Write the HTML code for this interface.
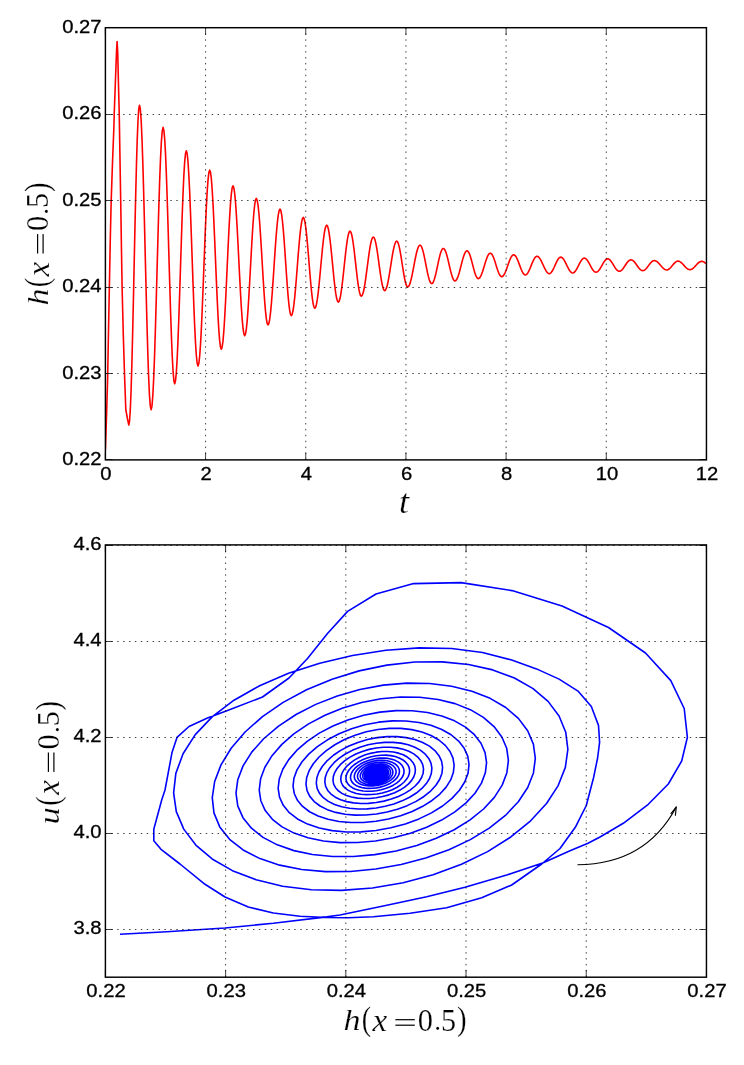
<!DOCTYPE html>
<html lang="en"><head><meta charset="utf-8"><title>h(x=0.5) time series and phase portrait</title>
<style>
html,body{margin:0;padding:0;background:#fff;}
body{width:744px;height:1065px;overflow:hidden;font-family:"Liberation Sans",sans-serif;}
svg{display:block;will-change:transform;}
.g{stroke:#000;stroke-width:0.74;stroke-dasharray:1.480 4.423;fill:none;}
.k{stroke:#000;stroke-width:0.74;fill:none;}
.s{stroke:#000;stroke-width:1.45;fill:none;}
.red{stroke:#f00;stroke-width:1.6;fill:none;stroke-linejoin:round;stroke-linecap:butt;}
.blue{stroke:#00f;stroke-width:1.6;fill:none;stroke-linejoin:round;stroke-linecap:butt;}
.arr{stroke:#000;stroke-width:1.15;fill:none;stroke-linecap:round;stroke-linejoin:round;}
.tl{font-family:"Liberation Sans",sans-serif;font-size:18.0px;fill:#000;stroke:#000;stroke-width:0.3;}
.mi{font-family:"Liberation Serif",serif;font-style:italic;fill:#000;stroke:#fff;stroke-width:0.2;}
.mr{font-family:"Liberation Serif",serif;fill:#000;stroke:#fff;stroke-width:0.2;}
</style></head>
<body>
<svg width="744" height="1065" viewBox="0 0 744 1065">
<rect x="0" y="0" width="744" height="1065" fill="#fff"/>
<defs><clipPath id="c1"><rect x="105.40" y="27.70" width="601.05" height="432.20"/></clipPath><clipPath id="c2"><rect x="105.40" y="544.90" width="601.05" height="432.30"/></clipPath></defs>
<g id="plot-top">
<path d="M105.40 449.60 L106.40 420.00 L107.60 380.00 L108.90 310.00 L110.30 239.00 L111.20 200.50 L112.60 160.00 L113.80 129.50 L114.30 112.00 L115.60 76.00 L116.50 52.00 L117.10 41.60 L117.70 52.00 L118.50 85.00 L119.25 114.50 L119.50 129.50 L120.70 200.50 L121.30 239.00 L122.10 287.20 L123.30 335.00 L124.50 373.40 L125.80 409.50 L127.40 418.50 L128.80 425.00 L129.56 420.99 L130.33 409.16 L131.09 390.11 L131.86 364.80 L132.62 334.48 L133.39 300.68 L134.15 265.10 L134.91 229.52 L135.68 195.72 L136.44 165.40 L137.21 140.09 L137.97 121.04 L138.74 109.21 L139.50 105.20 L140.33 109.02 L141.16 120.28 L141.99 138.42 L142.81 162.52 L143.64 191.39 L144.47 223.57 L145.30 257.45 L146.13 291.33 L146.96 323.51 L147.79 352.38 L148.61 376.48 L149.44 394.62 L150.27 405.88 L151.10 409.70 L151.96 406.16 L152.81 395.72 L153.67 378.91 L154.53 356.56 L155.39 329.79 L156.24 299.96 L157.10 268.55 L157.96 237.14 L158.81 207.31 L159.67 180.54 L160.53 158.19 L161.39 141.38 L162.24 130.94 L163.10 127.40 L163.93 130.61 L164.76 140.09 L165.59 155.36 L166.41 175.65 L167.24 199.95 L168.07 227.03 L168.90 255.55 L169.73 284.07 L170.56 311.15 L171.39 335.45 L172.21 355.74 L173.04 371.01 L173.87 380.49 L174.70 383.70 L175.53 380.78 L176.36 372.17 L177.19 358.29 L178.01 339.86 L178.84 317.78 L179.67 293.16 L180.50 267.25 L181.33 241.34 L182.16 216.72 L182.99 194.64 L183.81 176.21 L184.64 162.33 L185.47 153.72 L186.30 150.80 L187.14 153.50 L187.97 161.45 L188.81 174.27 L189.64 191.30 L190.48 211.70 L191.31 234.44 L192.15 258.38 L192.99 282.31 L193.82 305.05 L194.66 325.45 L195.49 342.48 L196.33 355.30 L197.16 363.25 L198.00 365.95 L198.84 363.50 L199.67 356.25 L200.51 344.59 L201.34 329.09 L202.18 310.53 L203.01 289.83 L203.85 268.05 L204.69 246.27 L205.52 225.57 L206.36 207.01 L207.19 191.51 L208.03 179.85 L208.86 172.60 L209.70 170.15 L210.53 172.40 L211.36 179.02 L212.19 189.69 L213.01 203.87 L213.84 220.85 L214.67 239.77 L215.50 259.70 L216.33 279.63 L217.16 298.55 L217.99 315.53 L218.81 329.71 L219.64 340.38 L220.47 347.00 L221.30 349.25 L222.14 347.20 L222.97 341.16 L223.81 331.43 L224.64 318.49 L225.48 303.00 L226.31 285.73 L227.15 267.55 L227.99 249.37 L228.82 232.10 L229.66 216.61 L230.49 203.67 L231.33 193.94 L232.16 187.90 L233.00 185.85 L233.84 187.73 L234.67 193.27 L235.51 202.19 L236.34 214.05 L237.18 228.25 L238.01 244.08 L238.85 260.75 L239.69 277.42 L240.52 293.25 L241.36 307.45 L242.19 319.31 L243.03 328.23 L243.86 333.77 L244.70 335.65 L245.53 333.93 L246.36 328.86 L247.19 320.68 L248.01 309.82 L248.84 296.81 L249.67 282.31 L250.50 267.05 L251.33 251.79 L252.16 237.29 L252.99 224.28 L253.81 213.42 L254.64 205.24 L255.47 200.17 L256.30 198.45 L257.14 200.04 L257.97 204.71 L258.81 212.25 L259.64 222.26 L260.48 234.26 L261.31 247.63 L262.15 261.70 L262.99 275.77 L263.82 289.14 L264.66 301.14 L265.49 311.15 L266.33 318.69 L267.16 323.36 L268.00 324.95 L268.86 323.50 L269.71 319.22 L270.57 312.32 L271.43 303.15 L272.29 292.17 L273.14 279.93 L274.00 267.05 L274.86 254.17 L275.71 241.93 L276.57 230.95 L277.43 221.78 L278.29 214.88 L279.14 210.60 L280.00 209.15 L280.81 210.49 L281.61 214.42 L282.42 220.77 L283.23 229.20 L284.04 239.30 L284.84 250.55 L285.65 262.40 L286.46 274.25 L287.26 285.50 L288.07 295.60 L288.88 304.03 L289.69 310.38 L290.49 314.31 L291.30 315.65 L292.16 314.42 L293.01 310.79 L293.87 304.94 L294.73 297.16 L295.59 287.85 L296.44 277.48 L297.30 266.55 L298.16 255.62 L299.01 245.25 L299.87 235.94 L300.73 228.16 L301.59 222.31 L302.44 218.68 L303.30 217.45 L304.12 218.59 L304.94 221.95 L305.76 227.35 L306.59 234.54 L307.41 243.15 L308.23 252.75 L309.05 262.85 L309.87 272.95 L310.69 282.55 L311.51 291.16 L312.34 298.35 L313.16 303.75 L313.98 307.11 L314.80 308.25 L315.65 307.21 L316.50 304.14 L317.35 299.19 L318.20 292.61 L319.05 284.73 L319.90 275.95 L320.75 266.70 L321.60 257.45 L322.45 248.67 L323.30 240.79 L324.15 234.21 L325.00 229.26 L325.85 226.19 L326.70 225.15 L327.53 226.11 L328.36 228.96 L329.19 233.54 L330.01 239.64 L330.84 246.93 L331.67 255.06 L332.50 263.62 L333.33 272.19 L334.16 280.32 L334.99 287.61 L335.81 293.71 L336.64 298.29 L337.47 301.14 L338.30 302.10 L339.14 301.21 L339.97 298.59 L340.81 294.36 L341.64 288.74 L342.48 282.02 L343.31 274.52 L344.15 266.62 L344.99 258.73 L345.82 251.23 L346.66 244.51 L347.49 238.89 L348.33 234.66 L349.16 232.04 L350.00 231.15 L350.81 231.97 L351.61 234.37 L352.42 238.25 L353.23 243.41 L354.04 249.58 L354.84 256.46 L355.65 263.70 L356.46 270.94 L357.26 277.82 L358.07 283.99 L358.88 289.15 L359.69 293.03 L360.49 295.43 L361.30 296.25 L362.16 295.51 L363.01 293.32 L363.87 289.79 L364.73 285.10 L365.59 279.48 L366.44 273.22 L367.30 266.62 L368.16 260.03 L369.01 253.77 L369.87 248.15 L370.73 243.46 L371.59 239.93 L372.44 237.74 L373.30 237.00 L374.11 237.67 L374.93 239.66 L375.74 242.85 L376.56 247.10 L377.37 252.19 L378.19 257.86 L379.00 263.82 L379.81 269.79 L380.63 275.46 L381.44 280.55 L382.26 284.80 L383.07 287.99 L383.89 289.98 L384.70 290.65 L385.56 290.03 L386.41 288.20 L387.27 285.25 L388.13 281.33 L388.99 276.64 L389.84 271.41 L390.70 265.90 L391.56 260.39 L392.41 255.16 L393.27 250.47 L394.13 246.55 L394.99 243.60 L395.84 241.77 L396.70 241.15 L397.49 241.72 L398.27 243.42 L399.06 246.15 L399.84 249.77 L400.63 254.11 L401.41 258.95 L402.20 264.05 L402.99 269.15 L403.77 273.99 L404.56 278.33 L405.34 281.95 L406.13 284.68 L406.91 286.38 L407.70 286.95 L408.58 286.43 L409.46 284.88 L410.34 282.39 L411.21 279.08 L412.09 275.12 L412.97 270.70 L413.85 266.05 L414.73 261.40 L415.61 256.98 L416.49 253.02 L417.36 249.71 L418.24 247.22 L419.12 245.67 L420.00 245.15 L420.84 245.63 L421.67 247.06 L422.51 249.35 L423.34 252.40 L424.18 256.05 L425.01 260.12 L425.85 264.40 L426.69 268.68 L427.52 272.75 L428.36 276.40 L429.19 279.45 L430.03 281.74 L430.86 283.17 L431.70 283.65 L432.53 283.21 L433.36 281.91 L434.19 279.81 L435.01 277.02 L435.84 273.69 L436.67 269.97 L437.50 266.05 L438.33 262.13 L439.16 258.41 L439.99 255.08 L440.81 252.29 L441.64 250.19 L442.47 248.89 L443.30 248.45 L444.14 248.86 L444.97 250.06 L445.81 252.00 L446.64 254.57 L447.48 257.65 L448.31 261.08 L449.15 264.70 L449.99 268.32 L450.82 271.75 L451.66 274.83 L452.49 277.40 L453.33 279.34 L454.16 280.54 L455.00 280.95 L455.86 280.57 L456.71 279.46 L457.57 277.67 L458.43 275.28 L459.29 272.43 L460.14 269.25 L461.00 265.90 L461.86 262.55 L462.71 259.37 L463.57 256.52 L464.43 254.13 L465.29 252.34 L466.14 251.23 L467.00 250.85 L467.81 251.20 L468.61 252.23 L469.42 253.88 L470.23 256.08 L471.04 258.72 L471.84 261.66 L472.65 264.75 L473.46 267.84 L474.26 270.78 L475.07 273.42 L475.88 275.62 L476.69 277.27 L477.49 278.30 L478.30 278.65 L479.16 278.33 L480.01 277.39 L480.87 275.87 L481.73 273.85 L482.59 271.43 L483.44 268.74 L484.30 265.90 L485.16 263.06 L486.01 260.37 L486.87 257.95 L487.73 255.93 L488.59 254.41 L489.44 253.47 L490.30 253.15 L491.11 253.44 L491.93 254.31 L492.74 255.71 L493.56 257.57 L494.37 259.80 L495.19 262.29 L496.00 264.90 L496.81 267.51 L497.63 270.00 L498.44 272.23 L499.26 274.09 L500.07 275.49 L500.89 276.36 L501.70 276.65 L502.56 276.38 L503.41 275.57 L504.27 274.27 L505.13 272.54 L505.99 270.47 L506.84 268.16 L507.70 265.73 L508.56 263.29 L509.41 260.98 L510.27 258.91 L511.13 257.18 L511.99 255.88 L512.84 255.07 L513.70 254.80 L514.53 255.05 L515.36 255.80 L516.19 257.00 L517.01 258.59 L517.84 260.50 L518.67 262.63 L519.50 264.88 L520.33 267.12 L521.16 269.25 L521.99 271.16 L522.81 272.75 L523.64 273.95 L524.47 274.70 L525.30 274.95 L526.14 274.72 L526.97 274.03 L527.81 272.92 L528.64 271.44 L529.48 269.67 L530.31 267.70 L531.15 265.62 L531.99 263.55 L532.82 261.58 L533.66 259.81 L534.49 258.33 L535.33 257.22 L536.16 256.53 L537.00 256.30 L537.88 256.52 L538.76 257.16 L539.64 258.19 L540.51 259.57 L541.39 261.21 L542.27 263.04 L543.15 264.97 L544.03 266.91 L544.91 268.74 L545.79 270.38 L546.66 271.76 L547.54 272.79 L548.42 273.43 L549.30 273.65 L550.11 273.44 L550.93 272.83 L551.74 271.85 L552.56 270.54 L553.37 268.98 L554.19 267.24 L555.00 265.40 L555.81 263.56 L556.63 261.82 L557.44 260.26 L558.26 258.95 L559.07 257.97 L559.89 257.36 L560.70 257.15 L561.56 257.35 L562.41 257.93 L563.27 258.87 L564.13 260.12 L564.99 261.62 L565.84 263.29 L566.70 265.05 L567.56 266.81 L568.41 268.48 L569.27 269.98 L570.13 271.23 L570.99 272.17 L571.84 272.75 L572.70 272.95 L573.53 272.76 L574.36 272.22 L575.19 271.34 L576.01 270.16 L576.84 268.76 L577.67 267.20 L578.50 265.55 L579.33 263.90 L580.16 262.34 L580.99 260.94 L581.81 259.76 L582.64 258.88 L583.47 258.34 L584.30 258.15 L585.14 258.33 L585.97 258.85 L586.81 259.69 L587.64 260.80 L588.48 262.14 L589.31 263.63 L590.15 265.20 L590.99 266.77 L591.82 268.26 L592.66 269.60 L593.49 270.71 L594.33 271.55 L595.16 272.07 L596.00 272.25 L596.84 272.08 L597.67 271.59 L598.51 270.79 L599.34 269.73 L600.18 268.46 L601.01 267.04 L601.85 265.55 L602.69 264.06 L603.52 262.64 L604.36 261.37 L605.19 260.31 L606.03 259.51 L606.86 259.02 L607.70 258.85 L608.53 259.01 L609.36 259.46 L610.19 260.20 L611.01 261.18 L611.84 262.36 L612.67 263.67 L613.50 265.05 L614.33 266.43 L615.16 267.74 L615.99 268.92 L616.81 269.90 L617.64 270.64 L618.47 271.09 L619.30 271.25 L620.14 271.11 L620.97 270.69 L621.81 270.01 L622.64 269.10 L623.48 268.02 L624.31 266.82 L625.15 265.55 L625.99 264.28 L626.82 263.08 L627.66 262.00 L628.49 261.09 L629.33 260.41 L630.16 259.99 L631.00 259.85 L631.84 259.99 L632.67 260.38 L633.51 261.03 L634.34 261.88 L635.18 262.91 L636.01 264.05 L636.85 265.25 L637.69 266.45 L638.52 267.59 L639.36 268.62 L640.19 269.47 L641.03 270.12 L641.86 270.51 L642.70 270.65 L643.53 270.52 L644.36 270.15 L645.19 269.55 L646.01 268.76 L646.84 267.81 L647.67 266.74 L648.50 265.62 L649.33 264.51 L650.16 263.44 L650.99 262.49 L651.81 261.70 L652.64 261.10 L653.47 260.73 L654.30 260.60 L655.19 260.72 L656.07 261.06 L656.96 261.62 L657.84 262.36 L658.73 263.25 L659.61 264.23 L660.50 265.27 L661.39 266.32 L662.27 267.30 L663.16 268.19 L664.04 268.93 L664.93 269.49 L665.81 269.83 L666.70 269.95 L667.51 269.84 L668.31 269.51 L669.12 268.99 L669.93 268.29 L670.74 267.46 L671.54 266.53 L672.35 265.55 L673.16 264.57 L673.96 263.64 L674.77 262.81 L675.58 262.11 L676.39 261.59 L677.19 261.26 L678.00 261.15 L678.86 261.26 L679.71 261.57 L680.57 262.08 L681.43 262.75 L682.29 263.56 L683.14 264.45 L684.00 265.40 L684.86 266.35 L685.71 267.24 L686.57 268.05 L687.43 268.72 L688.29 269.23 L689.14 269.54 L690.00 269.65 L690.84 269.55 L691.67 269.24 L692.51 268.74 L693.34 268.08 L694.18 267.29 L695.01 266.40 L695.85 265.47 L696.69 264.55 L697.52 263.66 L698.36 262.87 L699.19 262.21 L700.03 261.71 L700.86 261.40 L701.70 261.30 L702.54 261.40 L703.37 261.70 L704.21 262.18 L705.04 262.82 L705.88 263.59" class="red" clip-path="url(#c1)"/>
<line x1="205.58" y1="459.90" x2="205.58" y2="27.70" class="g"/>
<line x1="305.75" y1="459.90" x2="305.75" y2="27.70" class="g"/>
<line x1="405.93" y1="459.90" x2="405.93" y2="27.70" class="g"/>
<line x1="506.10" y1="459.90" x2="506.10" y2="27.70" class="g"/>
<line x1="606.28" y1="459.90" x2="606.28" y2="27.70" class="g"/>
<line x1="105.40" y1="114.50" x2="706.45" y2="114.50" class="g"/>
<line x1="105.40" y1="200.50" x2="706.45" y2="200.50" class="g"/>
<line x1="105.40" y1="287.50" x2="706.45" y2="287.50" class="g"/>
<line x1="105.40" y1="373.50" x2="706.45" y2="373.50" class="g"/>
<line x1="105.40" y1="459.90" x2="105.40" y2="452.70" class="k"/>
<line x1="105.40" y1="27.70" x2="105.40" y2="34.90" class="k"/>
<line x1="205.58" y1="459.90" x2="205.58" y2="452.70" class="k"/>
<line x1="205.58" y1="27.70" x2="205.58" y2="34.90" class="k"/>
<line x1="305.75" y1="459.90" x2="305.75" y2="452.70" class="k"/>
<line x1="305.75" y1="27.70" x2="305.75" y2="34.90" class="k"/>
<line x1="405.93" y1="459.90" x2="405.93" y2="452.70" class="k"/>
<line x1="405.93" y1="27.70" x2="405.93" y2="34.90" class="k"/>
<line x1="506.10" y1="459.90" x2="506.10" y2="452.70" class="k"/>
<line x1="506.10" y1="27.70" x2="506.10" y2="34.90" class="k"/>
<line x1="606.28" y1="459.90" x2="606.28" y2="452.70" class="k"/>
<line x1="606.28" y1="27.70" x2="606.28" y2="34.90" class="k"/>
<line x1="706.45" y1="459.90" x2="706.45" y2="452.70" class="k"/>
<line x1="706.45" y1="27.70" x2="706.45" y2="34.90" class="k"/>
<line x1="105.40" y1="27.50" x2="112.60" y2="27.50" class="k"/>
<line x1="706.45" y1="27.50" x2="699.25" y2="27.50" class="k"/>
<line x1="105.40" y1="114.50" x2="112.60" y2="114.50" class="k"/>
<line x1="706.45" y1="114.50" x2="699.25" y2="114.50" class="k"/>
<line x1="105.40" y1="200.50" x2="112.60" y2="200.50" class="k"/>
<line x1="706.45" y1="200.50" x2="699.25" y2="200.50" class="k"/>
<line x1="105.40" y1="287.50" x2="112.60" y2="287.50" class="k"/>
<line x1="706.45" y1="287.50" x2="699.25" y2="287.50" class="k"/>
<line x1="105.40" y1="373.50" x2="112.60" y2="373.50" class="k"/>
<line x1="706.45" y1="373.50" x2="699.25" y2="373.50" class="k"/>
<line x1="105.40" y1="459.50" x2="112.60" y2="459.50" class="k"/>
<line x1="706.45" y1="459.50" x2="699.25" y2="459.50" class="k"/>
<rect x="105.40" y="27.70" width="601.05" height="432.20" class="s"/>
<text transform="translate(106.00 479.70) scale(1.1250 1)" text-anchor="middle" class="tl">0</text>
<text transform="translate(206.18 479.70) scale(1.1250 1)" text-anchor="middle" class="tl">2</text>
<text transform="translate(306.35 479.70) scale(1.1250 1)" text-anchor="middle" class="tl">4</text>
<text transform="translate(406.53 479.70) scale(1.1250 1)" text-anchor="middle" class="tl">6</text>
<text transform="translate(506.70 479.70) scale(1.1250 1)" text-anchor="middle" class="tl">8</text>
<text transform="translate(606.88 479.70) scale(1.1250 1)" text-anchor="middle" class="tl">10</text>
<text transform="translate(707.05 479.70) scale(1.1250 1)" text-anchor="middle" class="tl">12</text>
<text transform="translate(101.60 32.80) scale(1.1250 1)" text-anchor="end" class="tl">0.27</text>
<text transform="translate(101.60 119.24) scale(1.1250 1)" text-anchor="end" class="tl">0.26</text>
<text transform="translate(101.60 205.68) scale(1.1250 1)" text-anchor="end" class="tl">0.25</text>
<text transform="translate(101.60 292.12) scale(1.1250 1)" text-anchor="end" class="tl">0.24</text>
<text transform="translate(101.60 378.56) scale(1.1250 1)" text-anchor="end" class="tl">0.23</text>
<text transform="translate(101.60 465.00) scale(1.1250 1)" text-anchor="end" class="tl">0.22</text>
</g>
<g id="plot-bottom">
<path d="M120.00 934.30 L166.70 931.70 L225.00 928.00 L273.30 923.30 L326.70 916.90 L340.00 915.00 L383.30 906.00 L426.70 896.70 L465.00 887.30 L506.70 875.00 L543.30 862.70 L570.00 850.70 L588.00 843.30 L600.00 837.00 L623.30 823.30 L648.30 804.30 L668.30 784.00 L681.70 761.00 L687.40 737.30 L684.20 708.50 L670.80 680.60 L645.50 653.00 L608.50 627.50 L562.00 606.00 L512.00 590.60 L461.00 582.60 L413.60 583.60 L376.00 594.00 L347.60 611.40 L327.50 633.50 L307.50 658.50 L289.00 678.00 L262.50 697.00 L227.50 710.50 L207.50 718.00 L189.00 726.50 L177.00 737.40 L172.00 752.60 L165.00 790.00 L161.70 800.00 L153.80 829.30 L153.80 840.70 L161.00 849.30 L180.00 864.00 L205.00 884.30 L225.00 897.00 L248.30 907.00 L273.30 913.00 L300.00 916.30 L326.70 917.50 L348.00 917.70 L373.30 916.70 L410.00 913.30 L446.70 907.70 L481.70 897.70 L511.70 885.00 L541.70 864.00 L560.00 848.50 L575.30 827.30 L586.30 805.50 L593.60 777.50 L597.60 758.00 L599.60 742.30 L598.50 725.40 L591.33 706.43 L578.39 691.43 L559.10 679.11 L536.51 668.89 L510.98 659.81 L482.52 652.55 L451.70 648.49 L419.26 647.86 L385.94 650.28 L352.51 655.45 L319.76 663.18 L288.52 673.32 L259.65 685.72 L234.02 700.23 L212.37 716.66 L195.27 734.66 L183.06 753.75 L175.85 773.35 L173.62 792.82 L176.30 811.59 L183.76 829.13 L195.81 845.04 L212.16 858.98 L232.43 870.64 L256.13 879.77 L282.67 886.19 L311.38 889.73 L341.54 890.33 L372.40 887.99 L403.18 882.77 L433.12 874.81 L461.49 864.34 L487.61 851.62 L510.84 836.98 L530.64 820.81 L546.54 803.53 L558.19 785.57 L565.35 767.39 L567.86 749.47 L565.73 732.22 L559.06 716.05 L548.07 701.38 L533.06 688.59 L514.45 678.01 L492.74 669.90 L468.49 664.46 L442.32 661.83 L414.91 662.06 L386.94 665.11 L359.09 670.88 L332.07 679.18 L306.55 689.77 L283.16 702.35 L262.49 716.55 L245.05 731.99 L231.15 748.25 L220.99 764.90 L214.66 781.50 L212.27 797.64 L213.95 812.90 L219.76 826.88 L229.57 839.31 L243.11 849.95 L259.97 858.61 L279.67 865.15 L301.69 869.50 L325.45 871.59 L350.36 871.44 L375.78 869.07 L401.10 864.57 L425.69 858.06 L448.94 849.69 L470.31 839.64 L489.29 828.14 L505.42 815.43 L518.33 801.79 L527.74 787.52 L533.44 772.92 L535.33 758.35 L533.38 744.14 L527.68 730.71 L518.38 718.39 L505.76 707.51 L490.14 698.36 L471.94 691.20 L451.62 686.20 L429.70 683.49 L406.72 683.14 L383.27 685.16 L359.92 689.47 L337.24 695.94 L315.78 704.38 L296.07 714.52 L278.56 726.09 L263.67 738.75 L251.75 752.14 L243.05 765.90 L237.77 779.68 L236.00 793.10 L237.76 805.86 L242.96 817.64 L251.45 828.21 L262.99 837.35 L277.26 844.86 L293.90 850.62 L312.46 854.52 L332.47 856.50 L353.44 856.54 L374.82 854.66 L396.10 850.92 L416.76 845.42 L436.27 838.30 L454.19 829.72 L470.08 819.88 L483.57 809.00 L494.35 797.34 L502.18 785.15 L506.89 772.72 L508.40 760.34 L506.70 748.31 L501.86 736.94 L494.02 726.53 L483.41 717.34 L470.32 709.64 L455.08 703.62 L438.09 699.45 L419.78 697.24 L400.62 697.03 L381.08 698.82 L361.64 702.55 L342.79 708.09 L324.98 715.28 L308.64 723.90 L294.14 733.70 L281.85 744.39 L272.02 755.68 L264.89 767.27 L260.60 778.83 L259.23 790.08 L260.80 800.73 L265.23 810.56 L272.39 819.34 L282.08 826.91 L294.04 833.11 L307.96 837.84 L323.48 841.01 L340.19 842.59 L357.69 842.55 L375.52 840.93 L393.26 837.77 L410.47 833.16 L426.72 827.21 L441.63 820.07 L454.84 811.89 L466.05 802.87 L474.99 793.20 L481.47 783.11 L485.35 772.83 L486.56 762.60 L485.08 752.67 L480.99 743.29 L474.40 734.71 L465.50 727.16 L454.52 720.84 L441.75 715.91 L427.53 712.51 L412.22 710.73 L396.19 710.61 L379.85 712.15 L363.60 715.29 L347.84 719.93 L332.95 725.94 L319.30 733.14 L307.20 741.31 L296.93 750.22 L288.74 759.63 L282.81 769.28 L279.26 778.91 L278.16 788.28 L279.51 797.15 L283.27 805.33 L289.31 812.65 L297.48 818.94 L307.54 824.10 L319.24 828.03 L332.28 830.65 L346.33 831.94 L361.02 831.87 L376.00 830.48 L390.90 827.81 L405.34 823.91 L418.98 818.90 L431.49 812.88 L442.57 806.00 L451.96 798.41 L459.44 790.27 L464.84 781.79 L468.06 773.14 L469.02 764.54 L467.73 756.19 L464.22 748.31 L458.62 741.10 L451.06 734.75 L441.76 729.44 L430.96 725.31 L418.93 722.46 L405.97 720.97 L392.43 720.88 L378.63 722.17 L364.91 724.81 L351.61 728.72 L339.06 733.76 L327.55 739.80 L317.36 746.65 L308.72 754.13 L301.85 762.02 L296.88 770.11 L293.93 778.19 L293.05 786.04 L294.24 793.48 L297.46 800.34 L302.61 806.47 L309.55 811.74 L318.08 816.06 L328.00 819.33 L339.03 821.52 L350.90 822.57 L363.31 822.49 L375.96 821.29 L388.52 819.00 L400.69 815.69 L412.18 811.42 L422.70 806.31 L432.01 800.46 L439.90 794.01 L446.17 787.11 L450.69 779.90 L453.36 772.56 L454.13 765.26 L453.00 758.17 L450.02 751.48 L445.27 745.37 L438.88 740.00 L431.02 735.51 L421.91 732.02 L411.76 729.63 L400.85 728.41 L389.44 728.37 L377.82 729.53 L366.27 731.82 L355.09 735.20 L344.53 739.54 L334.86 744.73 L326.30 750.61 L319.05 757.01 L313.29 763.75 L309.14 770.65 L306.69 777.54 L305.99 784.22 L307.04 790.54 L309.80 796.36 L314.19 801.55 L320.09 806.01 L327.34 809.65 L335.76 812.40 L345.12 814.23 L355.20 815.10 L365.73 815.02 L376.45 813.98 L387.11 812.04 L397.43 809.24 L407.16 805.65 L416.08 801.35 L423.97 796.45 L430.64 791.05 L435.93 785.28 L439.74 779.27 L441.97 773.15 L442.58 767.08 L441.58 761.20 L438.99 755.65 L434.90 750.59 L429.42 746.15 L422.69 742.45 L414.90 739.59 L406.23 737.64 L396.91 736.66 L387.18 736.66 L377.27 737.65 L367.43 739.58 L357.91 742.41 L348.92 746.04 L340.70 750.37 L333.43 755.27 L327.29 760.60 L322.41 766.22 L318.91 771.97 L316.86 777.70 L316.29 783.27 L317.21 788.53 L319.58 793.37 L323.33 797.69 L328.36 801.40 L334.53 804.43 L341.69 806.71 L349.63 808.22 L358.18 808.93 L367.10 808.83 L376.18 807.94 L385.19 806.28 L393.91 803.90 L402.13 800.85 L409.65 797.21 L416.30 793.05 L421.90 788.47 L426.35 783.57 L429.53 778.47 L431.38 773.28 L431.87 768.13 L430.98 763.13 L428.76 758.43 L425.27 754.13 L420.60 750.37 L414.88 747.23 L408.26 744.80 L400.90 743.15 L392.99 742.33 L384.74 742.34 L376.34 743.19 L368.00 744.84 L359.93 747.25 L352.33 750.34 L345.37 754.01 L339.23 758.17 L334.04 762.70 L329.93 767.46 L326.99 772.33 L325.29 777.18 L324.85 781.88 L325.67 786.33 L327.74 790.41 L330.97 794.05 L335.30 797.17 L340.59 799.71 L346.72 801.62 L353.52 802.87 L360.83 803.45 L368.45 803.34 L376.21 802.56 L383.90 801.14 L391.34 799.10 L398.34 796.50 L404.75 793.40 L410.39 789.88 L415.15 786.00 L418.92 781.85 L421.60 777.54 L423.14 773.16 L423.52 768.81 L422.72 764.61 L420.80 760.65 L417.79 757.04 L413.78 753.88 L408.89 751.26 L403.23 749.24 L396.96 747.87 L390.24 747.20 L383.24 747.23 L376.12 747.97 L369.07 749.38 L362.26 751.42 L355.85 754.04 L350.01 757.14 L344.86 760.65 L340.53 764.46 L337.11 768.47 L334.69 772.56 L333.30 776.63 L332.99 780.57 L333.74 784.30 L335.52 787.71 L338.28 790.76 L341.95 793.36 L346.43 795.47 L351.59 797.06 L357.31 798.09 L363.43 798.56 L369.81 798.46 L376.28 797.79 L382.68 796.58 L388.86 794.87 L394.67 792.68 L399.97 790.07 L404.64 787.11 L408.56 783.86 L411.65 780.38 L413.84 776.77 L415.09 773.11 L415.38 769.47 L414.70 765.96 L413.09 762.65 L410.58 759.64 L407.27 757.01 L403.22 754.82 L398.55 753.14 L393.38 752.02 L387.84 751.47 L382.07 751.52 L376.21 752.16 L370.41 753.36 L364.80 755.09 L359.54 757.30 L354.73 759.92 L350.50 762.88 L346.94 766.09 L344.14 769.46 L342.15 772.90 L341.03 776.32 L340.78 779.63 L341.41 782.75 L342.90 785.62 L345.20 788.17 L348.26 790.35 L351.98 792.11 L356.28 793.43 L361.05 794.29 L366.15 794.67 L371.47 794.57 L376.88 794.00 L382.24 792.97 L387.41 791.52 L392.28 789.68 L396.72 787.48 L400.63 784.99 L403.92 782.25 L406.51 779.33 L408.34 776.30 L409.38 773.22 L409.60 770.18 L409.01 767.23 L407.62 764.46 L405.48 761.95 L402.64 759.75 L399.19 757.93 L395.20 756.53 L390.79 755.60 L386.06 755.16 L381.13 755.21 L376.13 755.75 L371.18 756.77 L366.40 758.23 L361.90 760.09 L357.80 762.29 L354.19 764.77 L351.16 767.45 L348.77 770.27 L347.08 773.15 L346.13 776.01 L345.93 778.78 L346.48 781.38 L347.75 783.77 L349.72 785.90 L352.32 787.71 L355.49 789.18 L359.15 790.27 L363.19 790.97 L367.52 791.28 L372.02 791.18 L376.59 790.69 L381.12 789.82 L385.48 788.59 L389.58 787.03 L393.31 785.18 L396.59 783.08 L399.35 780.78 L401.51 778.33 L403.03 775.78 L403.87 773.19 L404.03 770.63 L403.51 768.16 L402.32 765.84 L400.49 763.73 L398.08 761.88 L395.16 760.36 L391.79 759.19 L388.07 758.41 L384.09 758.04 L379.94 758.09 L375.74 758.55 L371.58 759.41 L367.57 760.64 L363.81 762.21 L360.38 764.06 L357.36 766.14 L354.83 768.40 L352.85 770.77 L351.45 773.19 L350.67 775.59 L350.52 777.91 L351.00 780.10 L352.09 782.11 L353.75 783.89 L355.95 785.41 L358.63 786.64 L361.71 787.55 L365.12 788.14 L368.76 788.38 L372.55 788.29 L376.40 787.87 L380.20 787.12 L383.87 786.08 L387.31 784.75 L390.45 783.18 L393.21 781.40 L395.52 779.44 L397.33 777.36 L398.61 775.20 L399.31 773.01 L399.44 770.84 L399.00 768.75 L397.99 766.78 L396.44 765.00 L394.41 763.44 L391.94 762.15 L389.10 761.17 L385.96 760.52 L382.60 760.21 L379.10 760.26 L375.55 760.66 L372.04 761.40 L368.65 762.45 L365.47 763.78 L362.57 765.35 L360.03 767.12 L357.89 769.04 L356.22 771.05 L355.04 773.10 L354.39 775.14 L354.28 777.11 L354.70 778.96 L355.63 780.66 L357.07 782.17 L358.95 783.46 L361.24 784.50 L363.88 785.28 L366.79 785.77 L369.91 785.99 L373.16 785.91 L376.44 785.56 L379.70 784.93 L382.83 784.05 L385.78 782.93 L388.46 781.60 L390.81 780.09 L392.79 778.44 L394.33 776.68 L395.41 774.85 L396.01 772.99 L396.10 771.15 L395.71 769.37 L394.83 767.70 L393.50 766.19 L391.74 764.87 L389.62 763.78 L387.18 762.94 L384.48 762.39 L381.59 762.14 L378.59 762.19 L375.56 762.55 L372.56 763.19 L369.66 764.10 L366.95 765.26 L364.48 766.63 L362.32 768.17 L360.51 769.83 L359.09 771.58 L358.10 773.36 L357.56 775.13 L357.48 776.84 L357.85 778.45 L358.66 779.93 L359.89 781.24 L361.50 782.36 L363.45 783.27 L365.70 783.94 L368.18 784.37 L370.82 784.55 L373.57 784.48 L376.36 784.17 L379.11 783.62 L381.76 782.84 L384.24 781.87 L386.50 780.71 L388.48 779.40 L390.14 777.96 L391.44 776.42 L392.34 774.83 L392.83 773.22 L392.91 771.63 L392.56 770.09 L391.81 768.65 L390.68 767.34 L389.19 766.21 L387.39 765.27 L385.32 764.55 L383.04 764.09 L380.60 763.88 L378.07 763.93 L375.50 764.24 L372.96 764.80 L370.52 765.59 L368.23 766.58 L366.14 767.76 L364.32 769.08 L362.79 770.51 L361.60 772.01 L360.77 773.53 L360.32 775.04 L360.26 776.50 L360.58 777.87 L361.29 779.13 L362.34 780.24 L363.73 781.19 L365.40 781.96 L367.33 782.52 L369.45 782.88 L371.72 783.03 L374.07 782.96 L376.46 782.68 L378.82 782.20 L381.09 781.53 L383.21 780.69 L385.15 779.69 L386.85 778.56 L388.26 777.32 L389.37 776.00 L390.14 774.64 L390.55 773.25 L390.61 771.89 L390.31 770.57 L389.66 769.33 L388.68 768.21 L387.40 767.24 L385.85 766.44 L384.07 765.83 L382.10 765.43 L380.01 765.26 L377.83 765.31 L375.63 765.58 L373.46 766.06 L371.37 766.74 L369.41 767.60 L367.63 768.61 L366.07 769.75 L364.77 770.98 L363.75 772.27 L363.05 773.57 L362.67 774.87 L362.62 776.12 L362.91 777.30 L363.51 778.38 L364.42 779.34 L365.61 780.15 L367.04 780.80 L368.68 781.29 L370.50 781.60 L372.43 781.72 L374.44 781.66 L376.48 781.42 L378.48 781.01 L380.42 780.43 L382.23 779.71 L383.88 778.85 L385.32 777.88 L386.53 776.81 L387.47 775.68 L388.12 774.50 L388.48 773.31 L388.53 772.13 L388.27 770.99 L387.72 769.93 L386.88 768.96 L385.79 768.12 L384.46 767.43 L382.94 766.90 L381.26 766.55 L379.46 766.40 L377.59 766.44 L375.70 766.67 L373.83 767.09 L372.03 767.69 L370.33 768.44 L368.79 769.32 L367.44 770.31 L366.31 771.39 L365.43 772.51 L364.81 773.66 L364.47 774.80 L364.43 775.90 L364.67 776.94 L365.19 777.89 L365.98 778.73 L367.02 779.45 L368.28 780.03 L369.72 780.46 L371.32 780.74 L373.02 780.85 L374.80 780.79 L376.60 780.58 L378.39 780.21 L380.11 779.70 L381.72 779.05 L383.19 778.28 L384.48 777.41 L385.56 776.45 L386.40 775.44 L386.99 774.38 L387.30 773.31 L387.34 772.25 L387.11 771.22 L386.60 770.26 L385.84 769.39 L384.84 768.63 L383.63 768.00 L382.25 767.53 L380.72 767.22 L379.08 767.08 L377.38 767.12 L375.65 767.33 L373.95 767.71 L372.31 768.25 L370.76 768.93 L369.36 769.74 L368.13 770.64 L367.10 771.61 L366.30 772.63 L365.74 773.68 L365.44 774.71 L365.40 775.71 L365.62 776.65 L366.10 777.51 L366.82 778.28 L367.75 778.93 L368.89 779.45 L370.19 779.84 L371.63 780.08 L373.17 780.18 L374.76 780.13 L376.38 779.93 L377.98 779.60 L379.52 779.13 L380.96 778.54 L382.28 777.84 L383.43 777.05 L384.39 776.18 L385.13 775.26 L385.65 774.30 L385.92 773.34 L385.95 772.38 L385.73 771.45 L385.27 770.58 L384.59 769.80 L383.69 769.12 L382.61 768.55 L381.37 768.13 L380.00 767.86 L378.53 767.74 L377.01 767.78 L375.47 767.98 L373.95 768.33 L372.49 768.82 L371.11 769.44 L369.86 770.17 L368.77 770.99 L367.86 771.87 L367.15 772.80 L366.66 773.74 L366.40 774.67 L366.38 775.57 L366.59 776.42 L367.03 777.19 L367.69 777.88 L368.55 778.46 L369.59 778.93 L370.78 779.27 L372.09 779.48 L373.48 779.57 L374.93 779.51 L376.40 779.33 L377.84 779.02 L379.23 778.60 L380.53 778.06 L381.71 777.43 L382.74 776.71 L383.60 775.93 L384.27 775.10 L384.72 774.25 L384.96 773.38 L384.98 772.52 L384.77 771.70 L384.35 770.93 L383.73 770.23 L382.93 769.63 L381.96 769.13 L380.85 768.76 L379.64 768.52 L378.34 768.42 L377.00 768.47 L375.64 768.65 L374.31 768.96 L373.03 769.40 L371.83 769.96 L370.75 770.60 L369.80 771.33 L369.02 772.10 L368.41 772.92 L368.00 773.74 L367.78 774.56 L367.77 775.35 L367.96 776.08 L368.35 776.76 L368.92 777.35 L369.66 777.85 L370.55 778.26 L371.57 778.55 L372.68 778.73 L373.88 778.80 L375.11 778.75 L376.36 778.59 L377.58 778.31 L378.76 777.94 L379.86 777.47 L380.86 776.92 L381.73 776.29 L382.45 775.61 L383.01 774.89 L383.39 774.15 L383.58 773.39 L383.58 772.65 L383.40 771.93 L383.03 771.26 L382.49 770.66 L381.79 770.14 L380.94 769.71 L379.98 769.39 L378.93 769.19 L377.80 769.11 L376.63 769.15 L375.46 769.31 L374.30 769.59 L373.18 769.98 L372.14 770.46 L371.19 771.03 L370.37 771.67 L369.68 772.35 L369.16 773.06 L368.80 773.79 L368.61 774.50 L368.60 775.19 L368.77 775.84 L369.12 776.43 L369.63 776.95 L370.28 777.39 L371.07 777.74 L371.97 778.00 L372.96 778.16 L374.01 778.21 L375.09 778.17 L376.19 778.02 L377.27 777.78 L378.31 777.45 L379.28 777.03 L380.16 776.55 L380.92 776.00 L381.55 775.40 L382.04 774.76 L382.37 774.11 L382.54 773.44 L382.54 772.79 L382.38 772.16 L382.06 771.58 L381.59 771.05 L380.98 770.59 L380.24 770.21 L379.41 769.93 L378.49 769.75 L377.51 769.68 L376.50 769.72 L375.49 769.86 L374.48 770.11 L373.52 770.45 L372.62 770.87 L371.81 771.37 L371.10 771.93 L370.51 772.53 L370.05 773.15 L369.74 773.79 L369.58 774.42 L369.57 775.02 L369.72 775.59 L370.02 776.11 L370.46 776.57 L371.02 776.96 L371.70 777.27 L372.48 777.50 L373.34 777.64 L374.25 777.70 L375.20 777.66 L376.16 777.53 L377.11 777.32 L378.02 777.03 L378.87 776.66 L379.64 776.23 L380.32 775.74 L380.88 775.21 L381.32 774.64 L381.62 774.05 L381.77 773.45 L381.78 772.86 L381.65 772.29 L381.37 771.76 L380.95 771.28 L380.41 770.86 L379.75 770.51 L379.00 770.26 L378.18 770.09 L377.30 770.02 L376.38 770.06 L375.45 770.19 L374.53 770.41 L373.65 770.72 L372.82 771.12 L372.07 771.58 L371.41 772.09 L370.86 772.65 L370.44 773.23 L370.15 773.83 L370.00 774.41 L369.99 774.98 L370.13 775.52 L370.41 776.01 L370.82 776.44 L371.35 776.81 L371.99 777.10 L372.73 777.32 L373.54 777.45 L374.41 777.50 L375.31 777.46 L376.22 777.34 L377.12 777.14 L377.99 776.86 L378.80 776.51 L379.54 776.10 L380.18 775.63 L380.72 775.12 L381.14 774.58 L381.42 774.02 L381.57 773.45 L381.57 772.88 L381.44 772.34 L381.16 771.83 L380.76 771.38 L380.23 770.98 L379.60 770.65 L378.88 770.41 L378.09 770.26 L377.24 770.20 L376.36 770.23 L375.48 770.36 L374.60 770.57 L373.77 770.87 L372.98 771.25 L372.27 771.69 L371.65 772.18 L371.14 772.71 L370.74 773.26 L370.47 773.82 L370.34 774.37 L370.34 774.90 L370.48 775.40 L370.74 775.86 L371.13 776.26 L371.63 776.60 L372.23 776.87 L372.92 777.06 L373.67 777.18 L374.47 777.22 L375.29 777.18 L376.12 777.07 L376.94 776.87 L377.72 776.61 L378.45 776.29 L379.11 775.90 L379.68 775.47 L380.15 775.01 L380.51 774.51 L380.76 774.00 L380.87 773.48 L380.87 772.97 L380.73 772.48 L380.48 772.03 L380.11 771.62 L379.64 771.27 L379.08 770.98 L378.43 770.77 L377.73 770.64 L376.99 770.59 L376.22 770.63 L375.45 770.75 L374.69 770.95 L373.96 771.22 L373.28 771.56 L372.67 771.95 L372.14 772.39 L371.70 772.86 L371.37 773.35 L371.14 773.84 L371.04 774.33 L371.05 774.80 L371.17 775.24 L371.41 775.64 L371.76 775.99 L372.20 776.28 L372.73 776.52 L373.33 776.68 L373.99 776.79 L374.68 776.82 L375.40 776.78 L376.13 776.67 L376.84 776.50 L377.52 776.27 L378.16 775.98 L378.73 775.64 L379.23 775.26 L379.64 774.84 L379.95 774.40 L380.16 773.95 L380.26 773.50 L380.25 773.05 L380.13 772.62 L379.91 772.22 L379.58 771.86 L379.17 771.55 L378.67 771.30 L378.11 771.11 L377.50 771.00 L376.85 770.96 L376.17 770.99 L375.50 771.10 L374.83 771.28 L374.20 771.52 L373.60 771.82 L373.07 772.17 L372.61 772.56 L372.23 772.97 L371.94 773.41 L371.74 773.85 L371.65 774.28 L371.66 774.69 L371.78 775.08 L371.99 775.44 L372.29 775.75 L372.68 776.01 L373.15 776.21 L373.67 776.36 L374.25 776.45 L374.86 776.48 L375.49 776.44 L376.12 776.35 L376.75 776.19 L377.34 775.98 L377.90 775.73 L378.40 775.42 L378.83 775.09 L379.19 774.72 L379.46 774.33 L379.64 773.93 L379.72 773.52 L379.71 773.12 L379.61 772.74 L379.41 772.39 L379.12 772.07 L378.76 771.80 L378.32 771.57 L377.83 771.41 L377.29 771.31 L376.72 771.28 L376.13 771.31 L375.54 771.41 L374.96 771.56 L374.40 771.78 L373.88 772.05 L373.42 772.36 L373.02 772.71 L372.68 773.08 L372.43 773.46 L372.27 773.85 L372.19 774.24 L372.20 774.60 L372.30 774.95 L372.49 775.26 L372.76 775.54 L373.10 775.77 L373.51 775.95 L373.97 776.08 L374.48 776.16 L375.01 776.18 L375.56 776.15 L376.12 776.06 L376.66 775.92 L377.18 775.74 L377.67 775.51 L378.10 775.24 L378.48 774.93 L378.79 774.61 L379.02 774.26 L379.18 773.90 L379.25 773.54 L379.24 773.19 L379.15 772.85 L378.97 772.54 L378.72 772.25 L378.40 772.01 L378.02 771.82 L377.58 771.67 L377.11 771.58 L376.61 771.55 L376.10 771.58 L375.58 771.67 L375.07 771.82 L374.58 772.01 L374.13 772.25 L373.73 772.53 L373.37 772.83 L373.09 773.17 L372.87 773.51 L372.72 773.86 L372.66 774.20 L372.67 774.52 L372.76 774.83 L372.93 775.11 L373.17 775.35 L373.47 775.56 L373.83 775.72 L374.23 775.83 L374.67 775.90 L375.14 775.92 L375.62 775.89 L376.11 775.81 L376.59 775.69 L377.04 775.52 L377.46 775.31 L377.84 775.07 L378.17 774.80 L378.44 774.51 L378.65 774.20 L378.78 773.88 L378.84 773.56 L378.83 773.25 L378.74 772.95 L378.59 772.67 L378.37 772.42 L378.08 772.20 L377.75 772.03 L377.37 771.90 L376.96 771.82 L376.52 771.80 L376.07 771.83 L375.61 771.91 L375.17 772.03 L374.74 772.21 L374.35 772.42 L374.00 772.67 L373.69 772.95 L373.44 773.24 L373.25 773.55 L373.13 773.86 L373.07 774.16 L373.08 774.45 L373.16 774.73 L373.31 774.97 L373.52 775.19 L373.79 775.37 L374.10 775.52 L374.46 775.62 L374.84 775.68 L375.25 775.69 L375.68 775.66 L376.10 775.59 L376.52 775.48 L376.92 775.33 L377.28 775.15 L377.62 774.93 L377.90 774.69 L378.14 774.43 L378.31 774.15 L378.43 773.87 L378.48 773.58 L378.47 773.30 L378.39 773.03 L378.25 772.78 L378.06 772.56 L377.81 772.37 L377.52 772.21 L377.18 772.10 L376.82 772.03 L376.44 772.01 L376.04 772.04 L375.65 772.11 L375.26 772.23 L374.89 772.38 L374.54 772.57 L374.23 772.80 L373.97 773.04 L373.75 773.31 L373.58 773.58 L373.48 773.86 L373.43 774.13 L373.44 774.39 L373.52 774.64 L373.65 774.86 L373.83 775.05 L374.06 775.21 L374.34 775.34 L374.65 775.43 L374.99 775.48 L375.35 775.49 L375.72 775.47 L376.09 775.40 L376.46 775.30 L376.80 775.17 L377.13 775.00 L377.42 774.81 L377.67 774.59 L377.87 774.36 L378.02 774.11 L378.12 773.85 L378.17 773.60 L378.15 773.34 L378.09 773.10 L377.96 772.88 L377.79 772.68 L377.57 772.51 L377.31 772.37 L377.02 772.27 L376.70 772.21 L376.37 772.20 L376.02 772.22 L375.67 772.29 L375.34 772.39 L375.01 772.53 L374.71 772.71 L374.44 772.91 L374.21 773.13 L374.02 773.37 L373.88 773.61 L373.79 773.86 L373.75 774.10 L373.76 774.34 L373.82 774.55 L373.94 774.75 L374.10 774.92 L374.31 775.07 L374.55 775.18 L374.82 775.26 L375.12 775.31 L375.44 775.32 L375.76 775.29 L376.09 775.24 L376.40 775.14 L376.71 775.02 L376.99 774.87 L377.24 774.70 L377.46 774.50 L377.63 774.29 L377.77 774.07 L377.85 773.84 L377.89 773.61 L377.88 773.39 L377.82 773.17 L377.71 772.97 L377.56 772.79 L377.36 772.64 L377.14 772.52 L376.88 772.43 L376.60 772.38 L376.31 772.36 L376.01 772.38 L375.70 772.44 L375.41 772.54 L375.12 772.67 L374.86 772.82 L374.63 773.00 L374.42 773.20 L374.26 773.42 L374.13 773.64 L374.06 773.86 L374.02 774.08 L374.03 774.29 L374.09 774.48 L374.19 774.66 L374.34 774.81 L374.52 774.94 L374.73 775.05 L374.97 775.12 L375.23 775.16 L375.51 775.17 L375.79 775.14 L376.08 775.09 L376.35 775.01 L376.62 774.90 L376.86 774.76 L377.08 774.60 L377.27 774.43 L377.43 774.24 L377.54 774.04 L377.62 773.83 L377.65 773.62 L377.64 773.42 L377.58 773.23 L377.49 773.05 L377.35 772.89 L377.18 772.75 L376.98 772.64 L376.76 772.56 L376.52 772.52 L376.26 772.50 L375.99 772.52 L375.73 772.58 L375.47 772.67 L375.22 772.78 L374.99 772.92 L374.79 773.09 L374.61 773.27 L374.47 773.46 L374.36 773.66 L374.29 773.86 L374.26 774.06 L374.28 774.25 L374.33 774.42 L374.42 774.58 L374.54 774.72 L374.70 774.83 L374.89 774.93 L375.10 774.99 L375.33 775.03 L375.57 775.03 L375.82 775.01 L376.07 774.96 L376.31 774.89 L376.54 774.79 L376.76 774.66 L376.95 774.52 L377.11 774.36 L377.25 774.19 L377.35 774.01 L377.41 773.82 L377.44 773.64 L377.43 773.45 L377.38 773.28 L377.29 773.12 L377.17 772.97 L377.03 772.85 L376.85 772.75 L376.65 772.68 L376.44 772.64 L376.21 772.63 L375.98 772.65 L375.75 772.70 L375.52 772.78 L375.31 772.88 L375.11 773.01 L374.93 773.16 L374.77 773.32 L374.65 773.50 L374.56 773.68 L374.50 773.86 L374.47 774.04 L374.49 774.21 L374.53 774.37 L374.61 774.51 L374.72 774.63 L374.86 774.74 L375.03 774.82 L375.21 774.88 L375.41 774.91 L375.63 774.92 L375.84 774.90 L376.06 774.85 L376.27 774.78 L376.47 774.69 L376.66 774.58 L376.83 774.45 L376.97 774.31 L377.09 774.15 L377.17 773.99 L377.23 773.82 L377.25 773.65 L377.24 773.48 L377.20 773.32 L377.12 773.18 L377.02 773.05 L376.89 772.93 L376.73 772.85 L376.56 772.78 L376.37 772.75 L376.18 772.74 L375.97 772.76 L375.77 772.80 L375.57 772.87 L375.38 772.97 L375.21 773.09 L375.05 773.22 L374.92 773.37 L374.81 773.53 L374.73 773.69 L374.68 773.86 L374.66 774.02 L374.67 774.17 L374.71 774.32 L374.78 774.45 L374.88 774.56 L375.00 774.66 L375.15 774.73 L375.31 774.78 L375.49 774.81 L375.67 774.81 L375.86 774.80 L376.05 774.75 L376.24 774.69 L376.41 774.61 L376.58 774.51 L376.72 774.39 L376.85 774.26 L376.95 774.11 L377.02 773.96 L377.07 773.81 L377.09 773.66 L377.08 773.51 L377.04 773.36 L376.98 773.23 L376.88 773.11 L376.77 773.01 L376.63 772.93 L376.48 772.87 L376.32 772.84 L376.14 772.83 L375.97 772.85 L375.79 772.89 L375.61 772.96 L375.45 773.05 L375.30 773.15 L375.16 773.28 L375.05 773.41 L374.95 773.56 L374.88 773.71 L374.84 773.86 L374.82 774.00 L374.83 774.14 L374.87 774.28 L374.93 774.39 L375.02 774.50 L375.13 774.58 L375.25 774.65 L375.39 774.69 L375.55 774.72 L375.71 774.72 L375.88 774.71 L376.04 774.67 L376.21 774.61 L376.36 774.53 L376.50 774.44 L376.63 774.33 L376.74 774.21 L376.83 774.08 L376.89 773.95 L376.93 773.81 L376.95 773.67 L376.94 773.53 L376.90 773.40 L376.85 773.28 L376.76 773.17 L376.66 773.08 L376.55 773.00 L376.41 772.95 L376.27 772.92 L376.12 772.92 L375.96 772.93 L375.81 772.97 L375.65 773.03 L375.51 773.11 L375.38 773.21 L375.26 773.32 L375.16 773.45 L375.08 773.58 L375.01 773.72 L374.98 773.85 L374.96 773.99 L374.97 774.12 L375.01 774.24 L375.06 774.35 L375.14 774.44 L375.23 774.52 L375.34 774.58 L375.47 774.62 L375.60 774.64 L375.75 774.65 L375.89 774.63 L376.04 774.59 L376.18 774.54 L376.31 774.47 L376.44 774.39 L376.55 774.29 L376.64 774.18 L376.72 774.06 L376.78 773.93 L376.81 773.80 L376.82 773.67 L376.82 773.55 L376.78 773.43 L376.73 773.32 L376.66 773.22 L376.57 773.13 L376.47 773.07 L376.35 773.02 L376.23 772.99 L376.09 772.99 L375.96 773.00 L375.82 773.04 L375.69 773.10 L375.56 773.17 L375.45 773.26 L375.34 773.37 L375.25 773.48 L375.18 773.60 L375.13 773.73 L375.10 773.85 L375.09 773.98 L375.10 774.10 L375.13 774.20 L375.17 774.30 L375.24 774.39 L375.32 774.46 L375.42 774.52 L375.53 774.55 L375.65 774.58 L375.78 774.58 L375.90 774.56 L376.03 774.53 L376.15 774.48 L376.27 774.41 L376.38 774.34 L376.48 774.24 L376.56 774.14 L376.63 774.03 L376.67 773.92 L376.71 773.80 L376.72 773.68 L376.71 773.56 L376.68 773.45 L376.63 773.35 L376.57 773.26 L376.49 773.19 L376.40 773.12 L376.30 773.08 L376.19 773.06 L376.07 773.05 L375.95 773.07 L375.83 773.10 L375.72 773.15 L375.61 773.22 L375.51 773.31 L375.42 773.40 L375.34 773.51 L375.28 773.62 L375.23 773.74 L375.21 773.85 L375.20 773.97 L375.20 774.08 L375.23 774.18 L375.27 774.27 L375.33 774.35 L375.41 774.41 L375.49 774.46 L375.59 774.50 L375.69 774.52 L375.80 774.52 L375.91 774.50 L376.02 774.47 L376.13 774.43 L376.24 774.37 L376.33 774.29 L376.41 774.21 L376.49 774.11 L376.54 774.01 L376.59 773.91 L376.61 773.80 L376.62 773.69 L376.61 773.58 L376.59 773.48 L376.55 773.38 L376.49 773.30 L376.42 773.23 L376.34 773.17 L376.25 773.13 L376.16 773.11 L376.05 773.11 L375.95 773.12 L375.85 773.16 L375.75 773.20 L375.65 773.27 L375.56 773.35 L375.48 773.43 L375.42 773.53 L375.36 773.64 L375.32 773.74 L375.30 773.85 L375.29 773.96 L375.30 774.06 L375.32 774.15 L375.36 774.23 L375.41 774.31 L375.48 774.37 L375.55 774.41 L375.64 774.45 L375.73 774.46 L375.82 774.47 L375.92 774.45 L376.02 774.42 L376.11 774.38 L376.20 774.32 L376.29 774.26 L376.36 774.18 L376.42 774.09 L376.47 773.99 L376.51 773.90 L376.53 773.79 L376.54 773.69 L376.53 773.59 L376.51 773.50 L376.47 773.41 L376.42 773.33 L376.36 773.27 L376.29 773.22 L376.21 773.18 L376.13 773.16 L376.04 773.16 L375.95 773.17 L375.86 773.20 L375.77 773.25 L375.69 773.31 L375.61 773.38 L375.54 773.46 L375.48 773.55 L375.44 773.65 L375.40 773.75 L375.38 773.85 L375.37 773.95 L375.38 774.04 L375.40 774.13 L375.44 774.21 L375.48 774.27 L375.54 774.33 L375.60 774.37 L375.68 774.40 L375.76 774.42 L375.84 774.42 L375.93 774.41 L376.01 774.38 L376.10 774.34 L376.17 774.29 L376.25 774.22 L376.31 774.15 L376.36 774.07 L376.41 773.98 L376.44 773.89 L376.46 773.79 L376.47 773.70 L376.46 773.60 L376.44 773.52 L376.41 773.44 L376.36 773.36 L376.31 773.30 L376.25 773.26 L376.18 773.22 L376.11 773.20 L376.03 773.20 L375.95 773.21 L375.87 773.24 L375.79 773.29 L375.72 773.34 L375.65 773.41 L375.59 773.49 L375.54 773.57 L375.50 773.66 L375.47 773.76 L375.45 773.85 L375.45 773.94 L375.45 774.03 L375.47 774.11 L375.50 774.18 L375.54 774.24 L375.59 774.30 L375.65 774.34 L375.71 774.36 L375.78 774.38 L375.86 774.38 L375.93 774.37 L376.01 774.34 L376.08 774.30 L376.15 774.25 L376.21 774.19 L376.27 774.12 L376.31 774.05 L376.35 773.97 L376.38 773.88 L376.40 773.79 L376.40 773.70 L376.40 773.61 L376.38 773.53 L376.35 773.46 L376.31 773.39 L376.27 773.33 L376.21 773.29 L376.15 773.26 L376.09 773.24 L376.02 773.24 L375.95 773.25 L375.88 773.28 L375.81 773.32 L375.75 773.37 L375.69 773.44 L375.64 773.51 L375.59 773.59 L375.56 773.67 L375.53 773.76 L375.52 773.85 L375.51 773.93 L375.52 774.02 L375.53 774.09 L375.56 774.16 L375.59 774.22 L375.64 774.27 L375.69 774.31 L375.75 774.33 L375.81 774.34 L375.87 774.34 L375.94 774.33 L376.00 774.31 L376.07 774.27 L376.13 774.22 L376.18 774.17 L376.23 774.10 L376.27 774.03 L376.30 773.95 L376.33 773.87 L376.34 773.79 L376.35 773.70 L376.34 773.62 L376.32 773.55 L376.30 773.47 L376.27 773.41 L376.23 773.36 L376.18 773.32 L376.12 773.29 L376.07 773.27 L376.01 773.27 L375.95 773.28 L375.89 773.31 L375.83 773.35 L375.77 773.40 L375.72 773.46 L375.67 773.53 L375.64 773.60 L375.61 773.68 L375.58 773.77 L375.57 773.85 L375.57 773.93 L375.57 774.01 L375.59 774.08 L375.61 774.14 L375.64 774.20 L375.68 774.24 L375.72 774.28 L375.77 774.30 L375.83 774.31 L375.88 774.31 L375.94 774.30 L376.00 774.28 L376.05 774.24 L376.11 774.20 L376.15 774.15 L376.20 774.08 L376.23 774.02 L376.26 773.94 L376.28 773.87 L376.29 773.79 L376.30 773.71 L376.29 773.63 L376.28 773.56 L376.26 773.49 L376.23 773.43 L376.19 773.38 L376.15 773.34 L376.10 773.32 L376.05 773.30 L376.00 773.30 L375.95 773.31 L375.89 773.34 L375.84 773.37 L375.79 773.42 L375.75 773.48 L375.71 773.54 L375.67 773.62 L375.65 773.69 L375.63 773.77 L375.62 773.85 L375.61 773.92 L375.62 774.00 L375.63 774.06 L375.65 774.12 L375.68 774.18 L375.71 774.22 L375.75 774.25 L375.80 774.28 L375.85 774.29 L375.89 774.29 L375.94 774.28 L375.99 774.25 L376.04 774.22 L376.09 774.18 L376.13 774.13 L376.17 774.07 L376.20 774.00 L376.22 773.93 L376.24 773.86 L376.25 773.79 L376.25 773.71 L376.25 773.64 L376.24 773.57 L376.22 773.51 L376.19 773.45 L376.16 773.40 L376.12 773.37 L376.08 773.34 L376.04 773.33 L375.99 773.33 L375.95 773.34 L375.90 773.36" class="blue" clip-path="url(#c2)"/>
<line x1="225.61" y1="977.20" x2="225.61" y2="544.90" class="g"/>
<line x1="345.82" y1="977.20" x2="345.82" y2="544.90" class="g"/>
<line x1="466.03" y1="977.20" x2="466.03" y2="544.90" class="g"/>
<line x1="586.24" y1="977.20" x2="586.24" y2="544.90" class="g"/>
<line x1="105.40" y1="929.50" x2="706.45" y2="929.50" class="g"/>
<line x1="105.40" y1="833.50" x2="706.45" y2="833.50" class="g"/>
<line x1="105.40" y1="737.50" x2="706.45" y2="737.50" class="g"/>
<line x1="105.40" y1="641.50" x2="706.45" y2="641.50" class="g"/>
<line x1="105.40" y1="545.50" x2="706.45" y2="545.50" class="g"/>
<line x1="105.40" y1="977.20" x2="105.40" y2="970.00" class="k"/>
<line x1="105.40" y1="544.90" x2="105.40" y2="552.10" class="k"/>
<line x1="225.61" y1="977.20" x2="225.61" y2="970.00" class="k"/>
<line x1="225.61" y1="544.90" x2="225.61" y2="552.10" class="k"/>
<line x1="345.82" y1="977.20" x2="345.82" y2="970.00" class="k"/>
<line x1="345.82" y1="544.90" x2="345.82" y2="552.10" class="k"/>
<line x1="466.03" y1="977.20" x2="466.03" y2="970.00" class="k"/>
<line x1="466.03" y1="544.90" x2="466.03" y2="552.10" class="k"/>
<line x1="586.24" y1="977.20" x2="586.24" y2="970.00" class="k"/>
<line x1="586.24" y1="544.90" x2="586.24" y2="552.10" class="k"/>
<line x1="706.45" y1="977.20" x2="706.45" y2="970.00" class="k"/>
<line x1="706.45" y1="544.90" x2="706.45" y2="552.10" class="k"/>
<line x1="105.40" y1="929.50" x2="112.60" y2="929.50" class="k"/>
<line x1="706.45" y1="929.50" x2="699.25" y2="929.50" class="k"/>
<line x1="105.40" y1="833.50" x2="112.60" y2="833.50" class="k"/>
<line x1="706.45" y1="833.50" x2="699.25" y2="833.50" class="k"/>
<line x1="105.40" y1="737.50" x2="112.60" y2="737.50" class="k"/>
<line x1="706.45" y1="737.50" x2="699.25" y2="737.50" class="k"/>
<line x1="105.40" y1="641.50" x2="112.60" y2="641.50" class="k"/>
<line x1="706.45" y1="641.50" x2="699.25" y2="641.50" class="k"/>
<line x1="105.40" y1="545.50" x2="112.60" y2="545.50" class="k"/>
<line x1="706.45" y1="545.50" x2="699.25" y2="545.50" class="k"/>
<rect x="105.40" y="544.90" width="601.05" height="432.30" class="s"/>
<text transform="translate(106.00 997.00) scale(1.1250 1)" text-anchor="middle" class="tl">0.22</text>
<text transform="translate(226.21 997.00) scale(1.1250 1)" text-anchor="middle" class="tl">0.23</text>
<text transform="translate(346.42 997.00) scale(1.1250 1)" text-anchor="middle" class="tl">0.24</text>
<text transform="translate(466.63 997.00) scale(1.1250 1)" text-anchor="middle" class="tl">0.25</text>
<text transform="translate(586.84 997.00) scale(1.1250 1)" text-anchor="middle" class="tl">0.26</text>
<text transform="translate(707.05 997.00) scale(1.1250 1)" text-anchor="middle" class="tl">0.27</text>
<text transform="translate(101.60 934.40) scale(1.1250 1)" text-anchor="end" class="tl">3.8</text>
<text transform="translate(101.60 838.40) scale(1.1250 1)" text-anchor="end" class="tl">4.0</text>
<text transform="translate(101.60 742.40) scale(1.1250 1)" text-anchor="end" class="tl">4.2</text>
<text transform="translate(101.60 646.40) scale(1.1250 1)" text-anchor="end" class="tl">4.4</text>
<text transform="translate(101.60 550.40) scale(1.1250 1)" text-anchor="end" class="tl">4.6</text>
<path d="M577.9 864.7 Q645.4 864.0 676.0 807.4" class="arr"/>
<path d="M671.0 813.6 L676.3 806.9 L675.4 815.2" class="arr"/>
</g>
<g transform="translate(48.30 304.30) rotate(-90)"><text transform="translate(-1.22 0.00) scale(1.1335 0.9894)" font-size="30" class="mi">h</text><text transform="translate(17.07 0.01) scale(0.9339 1.1246)" font-size="30" class="mr">(</text><text transform="translate(27.85 0.20) scale(1.1024 1.0240)" font-size="30" class="mi">x</text><rect x="50.80" y="-11.30" width="19.40" height="1.2"/><rect x="50.80" y="-5.80" width="19.40" height="1.2"/><text transform="translate(73.19 0.19) scale(1.0142 1.0469)" font-size="30" class="mr">0</text><text transform="translate(89.61 -0.38) scale(0.9040 0.9040)" font-size="30" class="mr">.</text><text transform="translate(96.40 0.18) scale(1.0050 1.0526)" font-size="30" class="mr">5</text><text transform="translate(112.28 0.09) scale(0.9598 1.1283)" font-size="30" class="mr">)</text></g>
<g transform="translate(59.10 822.70) rotate(-90)"><text transform="translate(-1.73 -0.06) scale(1.1554 1.0050)" font-size="30" class="mi">u</text><text transform="translate(17.07 0.01) scale(0.9339 1.1246)" font-size="30" class="mr">(</text><text transform="translate(27.85 0.20) scale(1.1024 1.0240)" font-size="30" class="mi">x</text><rect x="50.80" y="-11.30" width="19.40" height="1.2"/><rect x="50.80" y="-5.80" width="19.40" height="1.2"/><text transform="translate(73.19 0.19) scale(1.0142 1.0469)" font-size="30" class="mr">0</text><text transform="translate(89.61 -0.38) scale(0.9040 0.9040)" font-size="30" class="mr">.</text><text transform="translate(96.40 0.18) scale(1.0050 1.0526)" font-size="30" class="mr">5</text><text transform="translate(112.28 0.09) scale(0.9598 1.1283)" font-size="30" class="mr">)</text></g>
<g transform="translate(344.60 1030.40)"><text transform="translate(-1.22 0.00) scale(1.1335 0.9894)" font-size="30" class="mi">h</text><text transform="translate(17.07 0.01) scale(0.9339 1.1246)" font-size="30" class="mr">(</text><text transform="translate(27.85 0.20) scale(1.1024 1.0240)" font-size="30" class="mi">x</text><rect x="50.80" y="-11.30" width="19.40" height="1.2"/><rect x="50.80" y="-5.80" width="19.40" height="1.2"/><text transform="translate(73.19 0.19) scale(1.0142 1.0469)" font-size="30" class="mr">0</text><text transform="translate(89.61 -0.38) scale(0.9040 0.9040)" font-size="30" class="mr">.</text><text transform="translate(96.40 0.18) scale(1.0050 1.0526)" font-size="30" class="mr">5</text><text transform="translate(112.28 0.09) scale(0.9598 1.1283)" font-size="30" class="mr">)</text></g>
<g transform="translate(400.6 512.7)"><text transform="translate(-1.59 -0.03) scale(1.2073 1.1111)" font-size="30" class="mi">t</text></g>
</svg>
</body></html>
